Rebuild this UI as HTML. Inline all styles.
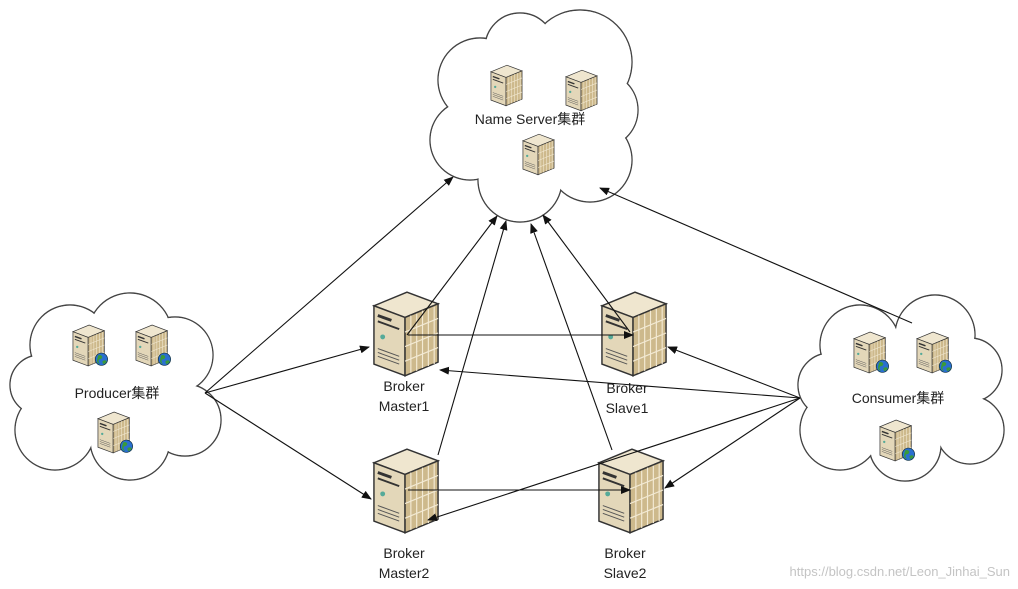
<!DOCTYPE html>
<html><head><meta charset="utf-8"><style>
html,body{margin:0;padding:0;background:#fff;}
svg{display:block}
text{font-family:"Liberation Sans","Noto Sans CJK SC",sans-serif;fill:#222;}
</style></head><body>
<svg width="1018" height="589" viewBox="0 0 1018 589" xmlns="http://www.w3.org/2000/svg">
<defs>
<marker id="ar" markerWidth="10" markerHeight="8" refX="9" refY="4" orient="auto" markerUnits="userSpaceOnUse">
<path d="M0,0 L10,4 L0,8 z" fill="#111"/></marker>
<symbol id="srv" viewBox="0 0 70 92">
<polygon points="2,18 36,4 68,16 34,30" fill="#efe6cf" stroke="#333" stroke-width="1.5"/>
<polygon points="2,18 34,30 34,90 2,78" fill="#e3d7b9" stroke="#333" stroke-width="1.5"/>
<polygon points="34,30 68,16 68,76 34,90" fill="#cdb98c" stroke="#333" stroke-width="1.5"/>
<g stroke="#f3ead4" stroke-width="1.2">
<line x1="40" y1="28" x2="40" y2="87"/><line x1="46" y1="26" x2="46" y2="85"/><line x1="52" y1="23" x2="52" y2="82"/><line x1="58" y1="21" x2="58" y2="80"/><line x1="64" y1="19" x2="64" y2="78"/>
<line x1="34" y1="45" x2="68" y2="31"/><line x1="34" y1="60" x2="68" y2="46"/><line x1="34" y1="75" x2="68" y2="61"/></g>
<line x1="6" y1="28" x2="20" y2="33" stroke="#333" stroke-width="3"/>
<line x1="6" y1="34" x2="28" y2="42" stroke="#333" stroke-width="2"/>
<circle cx="11" cy="50" r="2.5" fill="#5a9"/>
<g stroke="#555" stroke-width="1"><line x1="6" y1="62" x2="28" y2="70"/><line x1="6" y1="66" x2="28" y2="74"/><line x1="6" y1="70" x2="28" y2="78"/></g>
</symbol>
<symbol id="srvg" viewBox="0 0 80 92">
<use href="#srv" x="0" y="0" width="70" height="92"/>
<circle cx="62" cy="76" r="13" fill="#2a6fd0" stroke="#134" stroke-width="1.5"/>
<path d="M55,68 q6,-3 9,3 q-2,6 -7,5 q-3,5 2,10 q-8,-2 -6,-10z M64,80 q6,-4 9,0 q-2,6 -8,6z" fill="#3a9a3a"/>
</symbol>
</defs>

<g>
<g stroke="#444" stroke-width="1.4" fill="#fff">
<circle cx="480" cy="80" r="42"/><circle cx="580" cy="62" r="52"/><circle cx="520" cy="48" r="35"/>
<circle cx="470" cy="140" r="40"/><circle cx="520" cy="180" r="42"/><circle cx="590" cy="160" r="42"/><circle cx="600" cy="110" r="38"/><circle cx="540" cy="120" r="60"/>
</g>
<g fill="#fff">
<circle cx="480" cy="80" r="41.3"/><circle cx="580" cy="62" r="51.3"/><circle cx="520" cy="48" r="34.3"/>
<circle cx="470" cy="140" r="39.3"/><circle cx="520" cy="180" r="41.3"/><circle cx="590" cy="160" r="41.3"/><circle cx="600" cy="110" r="37.3"/><circle cx="540" cy="120" r="59.3"/>
</g></g>
<g>
<g stroke="#444" stroke-width="1.4" fill="#fff">
<circle cx="70" cy="345" r="40"/><circle cx="130" cy="335" r="42"/><circle cx="175" cy="355" r="38"/>
<circle cx="185" cy="420" r="36"/><circle cx="130" cy="440" r="40"/><circle cx="55" cy="430" r="40"/><circle cx="40" cy="385" r="30"/><circle cx="115" cy="390" r="60"/>
</g>
<g fill="#fff">
<circle cx="70" cy="345" r="39.3"/><circle cx="130" cy="335" r="41.3"/><circle cx="175" cy="355" r="37.3"/>
<circle cx="185" cy="420" r="35.3"/><circle cx="130" cy="440" r="39.3"/><circle cx="55" cy="430" r="39.3"/><circle cx="40" cy="385" r="29.3"/><circle cx="115" cy="390" r="59.3"/>
</g></g>
<g>
<g stroke="#444" stroke-width="1.4" fill="#fff">
<circle cx="860" cy="345" r="40"/><circle cx="935" cy="335" r="40"/><circle cx="970" cy="370" r="32"/>
<circle cx="970" cy="430" r="34"/><circle cx="905" cy="445" r="36"/><circle cx="840" cy="430" r="40"/><circle cx="830" cy="385" r="32"/><circle cx="900" cy="392" r="60"/>
</g>
<g fill="#fff">
<circle cx="860" cy="345" r="39.3"/><circle cx="935" cy="335" r="39.3"/><circle cx="970" cy="370" r="31.3"/>
<circle cx="970" cy="430" r="33.3"/><circle cx="905" cy="445" r="35.3"/><circle cx="840" cy="430" r="39.3"/><circle cx="830" cy="385" r="31.3"/><circle cx="900" cy="392" r="59.3"/>
</g></g>

<use href="#srv" x="490" y="63" width="33" height="44"/>
<use href="#srv" x="565" y="68" width="33" height="44"/>
<use href="#srv" x="522" y="132" width="33" height="44"/>
<text x="530" y="124" font-size="14" text-anchor="middle">Name Server集群</text>

<use href="#srvg" x="72" y="323" width="38" height="44"/>
<use href="#srvg" x="135" y="323" width="38" height="44"/>
<use href="#srvg" x="97" y="410" width="38" height="44"/>
<text x="117" y="398" font-size="14" text-anchor="middle">Producer集群</text>

<use href="#srvg" x="853" y="330" width="38" height="44"/>
<use href="#srvg" x="916" y="330" width="38" height="44"/>
<use href="#srvg" x="879" y="418" width="38" height="44"/>
<text x="898" y="403" font-size="14" text-anchor="middle">Consumer集群</text>

<use href="#srv" x="372" y="288" width="68" height="90"/>
<use href="#srv" x="600" y="288" width="68" height="90"/>
<use href="#srv" x="372" y="445" width="68" height="90"/>
<use href="#srv" x="597" y="445" width="68" height="90"/>
<g font-size="14" text-anchor="middle">
<text x="404" y="391">Broker</text><text x="404" y="411">Master1</text>
<text x="627" y="393">Broker</text><text x="627" y="413">Slave1</text>
<text x="404" y="558">Broker</text><text x="404" y="578">Master2</text>
<text x="625" y="558">Broker</text><text x="625" y="578">Slave2</text>
</g>

<g stroke="#111" stroke-width="1.1" fill="none" marker-end="url(#ar)">
<line x1="205" y1="393" x2="453" y2="177"/>
<line x1="205" y1="393" x2="369" y2="347"/>
<line x1="205" y1="393" x2="371" y2="499"/>
<line x1="407" y1="335" x2="497" y2="216"/>
<line x1="438" y1="455" x2="506" y2="221"/>
<line x1="612" y1="450" x2="531" y2="224"/>
<line x1="630" y1="332" x2="543" y2="215"/>
<line x1="408" y1="335" x2="633" y2="335"/>
<line x1="408" y1="490" x2="630" y2="490"/>
<line x1="912" y1="323" x2="600" y2="188"/>
<line x1="800" y1="398" x2="668" y2="347"/>
<line x1="800" y1="398" x2="440" y2="370"/>
<line x1="800" y1="398" x2="428" y2="520"/>
<line x1="800" y1="398" x2="665" y2="488"/>
</g>
<text x="1010" y="576" font-size="13" text-anchor="end" style="fill:#c4c4c4">https://blog.csdn.net/Leon_Jinhai_Sun</text>
</svg>
</body></html>
